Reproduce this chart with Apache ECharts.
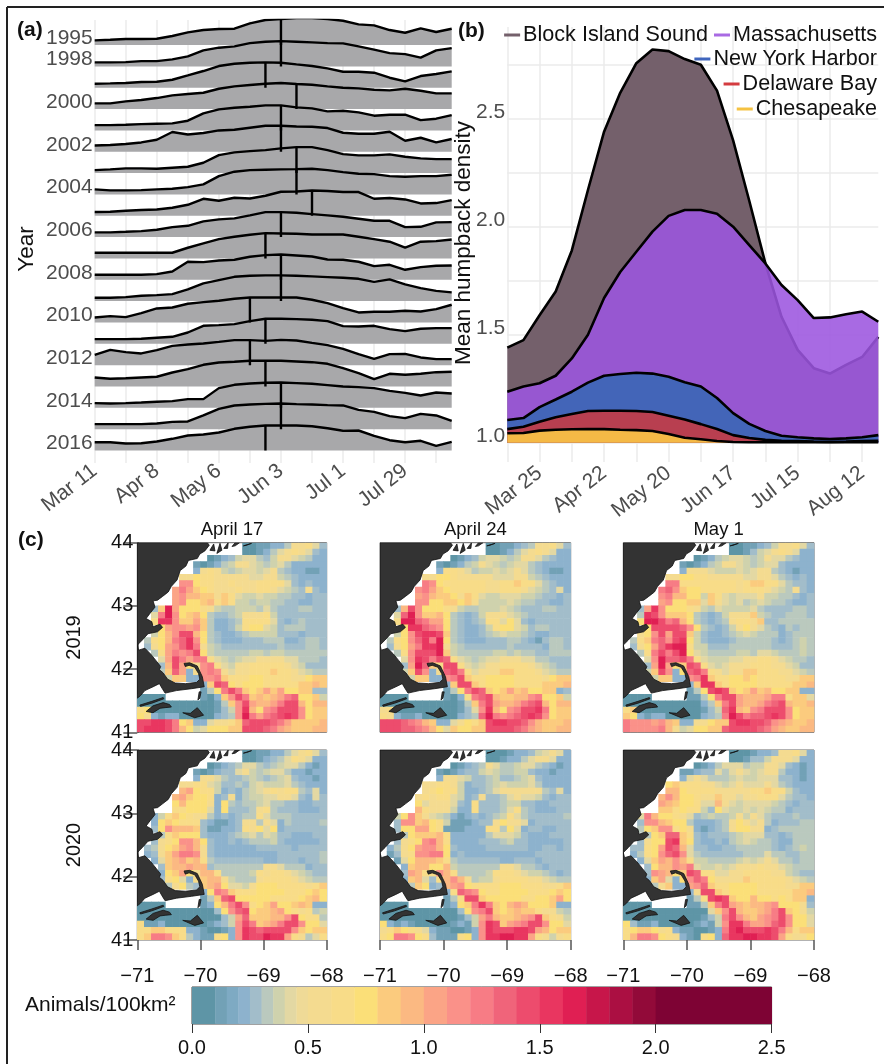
<!DOCTYPE html>
<html><head><meta charset="utf-8">
<script src="https://cdn.jsdelivr.net/npm/echarts@6/dist/echarts.min.js"></script>
<style>html,body{margin:0;padding:0;background:#fff}#c{width:884px;height:1064px}</style></head>
<body><div id="c"></div>
<script>
// ---------- panel (a): ridge heights per week, Mar 11 .. Aug 19
const ridgeYears=[1995,1998,1999,2000,2001,2002,2003,2004,2005,2006,2007,2008,2009,2010,2011,2012,2013,2014,2015,2016];
const ridgeLabelled=[1995,1998,2000,2002,2004,2006,2008,2010,2012,2014,2016];
const ridgePeakWeek=[12,12,11,13,12,12,13,13,14,12,11,12,12,10,11,10,11,12,12,11];
const r1995=[4.7,5.3,6,6,6.3,9,12.7,15,16,16.3,21.7,25,26,27,27,26,24.3,20.7,19.7,15,12.3,16.7,13,16.3];
const r1998=[4,4,4.3,5.3,5.3,7,10,16,18.7,20,23.3,24.7,25.3,24.7,24,23.3,23,20,16.7,13.3,12.3,8.7,16,18.3];
const r1999=[4,4.3,4.7,5.7,6,8,12.3,16.7,21.7,24,25,25.3,25,23.3,21.7,19.3,16,16,15,10,6.3,11.7,13.7,16.3];
const r2000=[5.7,5.7,7.7,9,11,13.7,15,16.3,20.3,22.7,24,25.3,26,25,24.3,22.7,21.3,20.7,19.3,18.7,20.3,18.3,15.7,15.7];
const r2001=[5.3,5.3,5.7,6.3,6.7,7,9.7,17,21,22.7,23.7,25,25,23,22,19,19.7,18,14.7,15.7,15.7,10.3,11.7,15.3];
const r2002=[6.3,6.7,7.7,9.3,12,19.7,17.3,18.7,21.3,22,24,26,26,25.3,25,23.7,19,18,18,20,11,14,9.3,12.7];
const r2003=[3,3.7,4.7,4.7,4.3,5.3,6.3,10.3,18,20.7,22,23,24.7,26,26,23,19,17.7,17.7,18.7,16.3,14.7,14,14];
const r2004=[5,4,4,4.3,5,5.7,7.3,10,18.3,22.7,24.3,24.7,25,25.3,25.7,24.3,22.3,20.7,20.3,18.3,17.7,18.3,18.3,19.7];
const r2005=[3.7,4,5,5.7,6.3,8,11,17,15,18,17.3,20,24,24.3,25.3,24.7,23.7,23.7,17,17.7,16.3,12.3,12.7,15.7];
const r2006=[4.7,4.7,5.3,6,7.3,10,11.3,15.7,17.7,18.7,21.7,25,25,24.3,23,21.7,20.3,18.3,16.3,16.3,10,10.3,14.7,15];
const r2007=[5.7,5.7,5.7,5.7,5.7,5.7,10.7,15,19.3,21.7,23.7,25.3,25,24.7,24,24,24,21.7,19.3,16.7,10.7,16.7,17.3,19];
const r2008=[5,5,5,5,5.7,8.3,18,17.7,19.3,20,23,24.7,25.3,24.3,23.3,20.3,20,18,13.7,15,10,12.7,14,14.3];
const r2009=[3.3,3.3,4,5.3,6,7,11.7,17.7,21,24.3,25.3,25.7,25.7,25.3,24.7,24,23.3,22.3,19.3,21.7,16.7,13,10.3,8.7];
const r2010=[5,6.3,5.3,9.3,14,15,18.7,20.3,21.7,23.7,25,25,25,25,22.7,19.3,14.3,10,10.7,10.7,11.7,11,13.3,17.7];
const r2011=[4.7,4.7,4.7,5,6,7,11.3,18,18.7,19.7,22.7,25,25,24.7,24,22.7,17.7,17.3,18,14.7,12.7,15,15.7,15.7];
const r2012=[10.3,15.3,13,11.7,15,19.3,20.7,21.7,23.3,25,25,24.3,25.3,24.7,22.3,20,16.3,11,6.3,11,11.3,7.7,6,6];
const r2013=[9,7.7,8.3,9,9.7,14,17.3,21.7,24,24.7,25.7,25.7,25.7,25,24.3,22.7,18.3,13.3,7.3,12.7,11.7,12.7,14.3,14.7];
const r2014=[4.7,4.3,4.7,5.3,6,6.7,8.7,8.7,19.7,23,24.3,25,25.3,24.7,24,22.7,21.3,20.7,19.7,17,15,12.3,15.3,14.3];
const r2015=[5,5,5,5,5.7,7.3,7.7,13.7,20.3,23.7,24.7,25.3,25.7,25,24.7,24,23.7,19.3,17.3,13,11,15.3,13.7,8.3];
const r2016=[8.3,8.3,7,7.3,9,11.7,15,16,18,21.7,23.7,25,25,25,24.3,22.3,19.7,20,14.7,10.3,8.3,9.7,4.7,8.7];
const ridgeRows=[r1995,r1998,r1999,r2000,r2001,r2002,r2003,r2004,r2005,r2006,r2007,r2008,r2009,r2010,r2011,r2012,r2013,r2014,r2015,r2016];
const weekLabelsA={0:'Mar 11',4:'Apr 8',8:'May 6',12:'Jun 3',16:'Jul 1',20:'Jul 29'};
const weekLabelsB={2:'Mar 25',6:'Apr 22',10:'May 20',14:'Jun 17',18:'Jul 15',22:'Aug 12'};

// ---------- panel (b)
const blockIsland=[1.44,1.475,1.59,1.70,1.89,2.17,2.44,2.62,2.757,2.82,2.813,2.776,2.75,2.63,2.40,2.12,1.83,1.583,1.43,1.345,1.32,1.36,1.397,1.49];
const massachusetts=[1.236,1.26,1.275,1.31,1.39,1.50,1.67,1.79,1.884,1.977,2.05,2.077,2.077,2.06,2.0,1.915,1.83,1.73,1.66,1.577,1.58,1.595,1.607,1.56];
const newYorkHarbor=[1.105,1.114,1.165,1.20,1.236,1.278,1.31,1.318,1.324,1.32,1.305,1.28,1.26,1.207,1.137,1.087,1.054,1.032,1.025,1.02,1.017,1.02,1.025,1.035];
const delawareBay=[1.063,1.074,1.097,1.118,1.133,1.147,1.148,1.148,1.147,1.142,1.125,1.107,1.086,1.063,1.035,1.022,1.013,1.009,1.008,1.005,1.004,1.005,1.008,1.009];
const chesapeake=[1.044,1.045,1.056,1.06,1.062,1.063,1.063,1.06,1.058,1.054,1.04,1.023,1.016,1.008,1.003,1.002,1.002,1.002,1.002,1.002,1.002,1.002,1.002,1.002];

// ---------- panel (c): density classes per cell (27 columns, 30 rows, north to south)
const classValues={a:.05,b:.12,c:.22,d:.27,e:.33,f:.38,g:.43,h:.55,i:.65,j:.75,k:.85,l:.95,m:1.05,n:1.15,o:1.25,p:1.35,q:1.45,r:1.55,s:1.65,t:1.75};
const apr17y2019=["...............aabbccehhigd","...............aabceghihgdc","..........abcdfggedfhhgfecc","........babcefhhgfefgeccccc","........chihfefggfghedccbbc","......hhjiihhhhhgghhfedcccc","......nnjiihhihhhiiiigdcdcc",".....momkjihhhihhiihgfedhdc",".....mnllkkhkigffgffeeddcdd",".....mnjjklikiffeffeeddccdd","..dksmjjjihfeefffegedddeedd","..gosnjkljeddefhhhifddddddd","..irrnkkmkeccdeiiiigdcdeddd","...jmnnmnkeccdfijjgfdeeeddd","..fjlnqqljedccdeffffdddcddd",".eijloprnjedcccdddeeeccdeed",".dhjmnprohfeddddddddedddeed","..eimonoqjfeeeeeffeffeeeeee","...gmqomooigfefgghhhhggeeed","...dlqmjhnoigfhhiiiiihgfddd","...ekpmchnonhghhiiikiihgfee","....fkkccnnokiiijjiiiihhjkk",".........ckqpjijjjiiiiikklk",".........bejoqokjkmkmjjkkdd","aaaa.....backnqoklklmopjjkf","aaaaaaaaaaabeknqmllmoqqljll","ijaaaaaaaaabdfnrljnoqqqnjkk","jhcbccaaaaacdensomopqrqnjkk","qqrrqojkccghhikpqqqpomkkkkl","qrrrqoljfgjjjkkqqqpomlkkkll"];
const apr24y2019=["...............aabbcdehhigd","...............aabceghihgcc","..........abcdfggfefhhgedcc","........babcefhgfefggedcccc","........ciihgeffgfghgedcbbc","......hhjjihhhhhggghhfedccc","......onjiiiiiihhiikiigedcc",".....nomkjiiiiihhiiihgfedgc",".....mnlkkjhkigffgggffeddcd",".....nnjjkkjkhffffgfeeddccd","..dlqnjjjihfeefffgfedddeedd","..gpsnkkljedcdfhhhgfedddddd","..isspommjedcdeiigjgdcddddd","...jrrponjedccdfijjgfdeeddd","..fjnqrrqkedccdefgffedccddd",".eijnprosjedcccdddeedcbdeed",".dhjmorrshfeddddddeddddceed","..einqqqskfeeeeeffefeeddeee","...gnrqoqpigfefgghhhggeeddd","...dmspkiqqigfghhiiiihgfedd","...fkqnchpqoighhhkkiiihgfee","....fkkccnoqkiijjjjiiiihjkk",".........ckqqkijjjjiiiikkkl",".........bejoqpkjkmkljjkkcd","aaaa.....baciopqlkkllnojjkf","aaaaaaaaaaabekoqmllmopqljll","hiaaaaaaaaabdgnrljnoqqrojkk","ihcbbcaaaaacdepsonopqrqnjkk","qqqponlkccghjikqrrqqpnlkkkl","qqqpponljgkjjkkqqqqpomlkkll"];
const may1y2019=["...............aabbcdfhhigd","...............aabdfghihgcc","..........abcefggfefhggedcc","........babcefhhgfefggdcccc","........chhhgfffgfghhedcbcc","......hhjjiihhhhhgghhgedcdc","......ooiiiiiiiihikkiigeddc",".....opnkjjiiiiihiiihgfehdc",".....nolljjfkigfggghffeedcd",".....mnjjkkgkhgfgefgfeedccd","..dmrnjjjihfegffffgeddddeed","..erqnkkkjedcdfhhhkfeddeeed","..jssqopljedcdehiihkddeeeee","...jqqqqpnjedcdfhjhgedcedee","..hjnqmqqkfdccdefgfeeecdeee",".eikopnqrjfdcccdeeeeedcdefe",".dhjmprssiffdddeeeeeedddefe","..eioqoqsjgfeeeeffeggfeeefe","...gnsppqoigfffgghhiihgfeed","...dmsmjkqpigfghhhiiihhgfdd","...fkqncjpqoihghhkkiiihhgfe","....fkkccnorkiijjkjiiiihhkk",".........ckrrkijjjjiiiiikkl",".........bejqrqkjkmkljjkkcc","aaaa.....bbejoqqmlllmooikkg","aaaaaaaaaaacekoqmllmopqlkkl","ikaaaaaaaaabdfprlknoqqqnjkk","kjcbccaaaaacdeosqoppqrqnjkk","onnnmnlkcchhjkkqrrqqpnmlkkl","onnnnolhfgjjkkpqqqqpomlkkll"];
const apr17y2020=["...............aabbcceghigd","...............aabcdegihgcc","..........abcdeggedefggecbc","........babcddghfefggeccbcc","........chhgeddefedefgdccbc","......hhiigfddedfgfffgedccc","......lmjiifcdcefghihiiedgc",".....lmkjjicdhceffgghhgdcgd",".....jljjjhcjedeefgeeddccdd",".....iijjjgcjdddehiedddcccd","..cfikjihhecdcdeeigeeeddddd","..cjkjiiidcbbcdhhehgcedddde","..djnlllkdbbccdihjgjcdddddd","...eikjjjdcccdefgegfddcccdd","..dhijnnljdccdcdeeefdcccccd",".dehjkmnlhdccccccdddddcdddd",".cdhkmoonhdcccccccccdddddde","..cgklmkliedddddddccdddcdde","...dkllmlldeeeeeeehhgeeecdd","...cjkmjhllieeeefihiihgfedd","...dijgcikllhfeeehiiiihgfee","....ehjedklmjggfhjjjiiiihik",".........cjonkiiijjjjiiijkj",".........bekpqjjjjjiiiijklj","aaaa.....bcjloqnijkmjjklkcc","aaaaaaaaaaadjnpqjkklmjihief","aaaaaaaaaaaadfmpkkkllnqjiie","ibbcaaaaaabcdfnqoklmoqqnjjg","iikkiiiccbaabcnrqpqqqqnkjkk","ikoonkiecbbijcnrqqsrrmihegi"];
const apr24y2020=["...............aaabccdfghgc","...............aabcceghhgcc","..........abcdehgeefggedcbc","........babcddfgfeeffdccbcc","........chhgfddefddefgdcccc","......hhiihfcddefgfffgecccc","......hijiifccdeghhhhhhedgc",".....hihiigfcdhddeghggfdcdd",".....jghhhgdcidddeffddccddd",".....lihhhfccidddegiedcccdd","..fjnkhgfecbcdcdefigeddddde","..dnnkljifbbbcddhjhhgcddddd","..djjmmjibbbccciiejgcddccdd","...ejkkklicccccegggfdcccddd","..dhijnoliccccdddefddcccccd",".cehjmnnljdccccddddddccddcd",".bdhinnoojcdccccccccccddddd","..bgjlllkieddddddccdddcdddd","...cklljjlfeeeeeehhgeedcddd","...dmliinlieeeefiiihgffedcd","...cklgdilnlheffhiiiihhgfee","....ekjcdlmnjiiiijjjiiihhik",".........ciponjiijjjjiiijkj",".........beiqqkjjjjjiijjkmj","aaaa.....bcjkorokjlmljjjkcc","aaaaaaaaaaadjnoqkjklkkihhfe","aaaaaaaaaaabdfmolkklmnqkihf","jcbcbaaaaabcbfnrqkmnoqqnjjg","hikjihgcbbaabcnrqqqrrqmljkk","ijoonjidbbbijcnrrssrrmihfhi"];
const may1y2020=["...............aaabccdhhigc","...............aabddfhhhgcc","..........abcegggeffhhgdcbc","........bbcddgeghgfghheccbc","........cghgeeefgffgggddcbc","......jkiiihhgfghggghgedccc","......lljiiiihhhhhiikiifdcc",".....lnljjihhkhhghhiiigeddc",".....mlkjjigglhgfggggfedcdd",".....kkijiifdjgffgfgfeecddd","..goljjihgdefeefhfhgedddedd","..dnnlkjjecccdehjhghecdddee","..ejknnijhcbcdehjjhhcdeeeee","...ejkppkidcdddefgggddcdeee","..dhjjqrkjdccdcefgfeedcceee",".ddijmqplgddccddeeeeedcdefe",".ceijnpqngeddddddeeegeeddee","..cgkmlnliffeeeefgfghgeedee","...djllnmogffgfghhhihhgfeee","...dnmljkqpiigghhiiiihhfedd","...ckmgcjnpojhhhhkiiiiihgfe","....ehkccmnpkiijjjjiiiihhkk",".........chqqkijjjjiiiiikkl",".........beiqrqkjjljjijikkc","aaaa.....bbekoqmlkllmnjjjhd","aaaaaaaaaaaagknqlkklmoqkjhf","aaaaaaaaaaabdfoqnlkmnoqnjjg","jdbbcaaaaabcbfnrrommnpqnjjg","ijkkjhicbbaabcorsqqqrqolikk","iloonjihcbaijcprrssrrqmihhj"];
const mapTitles=['April 17','April 24','May 1'];
const mapYears=['2019','2020'];
const mapTables=[apr17y2019,apr24y2019,may1y2019,apr17y2020,apr24y2020,may1y2020];
const colourBreaks=[0,.1,.15,.2,.25,.3,.35,.4,.45,.5,.6,.7,.8,.9,1,1.1,1.2,1.3,1.4,1.5,1.6,1.7,1.8,1.9,2,2.5];
const colourBands=['#5e95a6','#72a1b6','#7eaac3','#8db2cd','#a2bdca','#bac9be','#cfd2ad','#e3d8a3','#efda97','#f4db90','#f8dc88','#fbdf78','#fbcb7e','#fbb982','#fba486','#fa9189','#f77c85','#f0647a','#ed4c6d','#e93660','#e01f53','#c7164a','#ab0f42','#920a39','#7e0334'];
// land outlines, longitude / latitude
const mainland=[[-71,44],[-69.89,44],[-69.86,43.96],[-69.93,43.87],[-70.01,43.82],[-70.05,43.75],[-70.19,43.72],[-70.23,43.63],[-70.32,43.56],[-70.37,43.41],[-70.46,43.31],[-70.51,43.22],[-70.6,43.15],[-70.68,43.09],[-70.75,43.08],[-70.72,42.98],[-70.8,42.88],[-70.86,42.8],[-70.77,42.75],[-70.75,42.67],[-70.64,42.71],[-70.6,42.66],[-70.68,42.59],[-70.83,42.56],[-70.92,42.46],[-71,42.38],[-70.98,42.3],[-70.88,42.33],[-70.79,42.24],[-70.7,42.13],[-70.63,42.04],[-70.65,41.99],[-70.59,41.94],[-70.52,41.84],[-70.4,41.78],[-70.24,41.77],[-70.06,41.79],[-70.01,41.84],[-70.03,41.93],[-70.09,42.03],[-70.18,42.06],[-70.24,42.04],[-70.26,42.09],[-70.17,42.1],[-70.05,42.05],[-69.97,41.88],[-69.94,41.72],[-70.14,41.69],[-70.38,41.66],[-70.56,41.62],[-70.61,41.7],[-70.65,41.77],[-70.75,41.72],[-70.88,41.66],[-70.95,41.58],[-71,41.54]];
const elizabethIslands=[[-70.96,41.43],[-70.77,41.49],[-70.59,41.55],[-70.58,41.53],[-70.77,41.46],[-70.95,41.41]];
const marthasVineyard=[[-70.86,41.33],[-70.75,41.42],[-70.59,41.47],[-70.49,41.44],[-70.46,41.4],[-70.56,41.39],[-70.64,41.38],[-70.75,41.31]];
const nantucket=[[-70.28,41.31],[-70.16,41.3],[-70.05,41.39],[-69.95,41.27],[-70.09,41.23]];
const monomoy=[[-70.02,41.64],[-69.99,41.64],[-70.01,41.54],[-70.04,41.51]];
const maineA=[[-69.85,43.88],[-69.79,43.98],[-69.77,43.87]];
const maineB=[[-69.74,43.83],[-69.69,43.99],[-69.66,43.88]];
const maineC=[[-69.63,43.91],[-69.56,44],[-69.57,43.91]];
const maineD=[[-69.5,43.94],[-69.45,44],[-69.38,44],[-69.45,43.95]];
const maineE=[[-69.32,43.95],[-69.19,43.99],[-69.27,43.96]];
const landShapes=[mainland,elizabethIslands,marthasVineyard,nantucket,monomoy,maineA,maineB,maineC,maineD,maineE];

const font='"Liberation Sans", Arial, sans-serif';
const gridCol='#ebebeb', tickCol='#4d4d4d';
function bandColour(v){for(let i=0;i<colourBands.length;i++){if(v<colourBreaks[i+1])return colourBands[i];}return colourBands[colourBands.length-1];}
const grid=[],xAxis=[],yAxis=[],series=[];

// ---- (a)
const rowGap=21.34;
grid.push({left:94.7,top:20,width:357,height:430.5});
xAxis.push({type:'value',min:0,max:23,interval:2,gridIndex:0,
  axisLine:{show:false},axisTick:{show:true,length:12.5,lineStyle:{color:gridCol,width:1.5},customValues:[0,2,4,6,8,10,12,14,16,18,20,22]},
  splitLine:{show:true,showMaxLine:false,lineStyle:{color:gridCol,width:1.5}},
  axisLabel:{customValues:Object.keys(weekLabelsA).map(Number),formatter:v=>weekLabelsA[v]||'',rotate:38,margin:18,fontSize:21,color:tickCol,fontFamily:font,hideOverlap:false}});
const baseOf=i=>(ridgeYears.length-1-i)*rowGap;
const yearAt={};
ridgeLabelled.forEach(y=>{yearAt[Math.round(baseOf(ridgeYears.indexOf(y))+6.5)]=y;});
yAxis.push({type:'value',min:0,max:430.5,gridIndex:0,
  axisLine:{show:false},axisTick:{show:false},splitLine:{show:false},
  axisLabel:{customValues:Object.keys(yearAt).map(Number),formatter:v=>yearAt[Math.round(v)]||'',margin:2,fontSize:21,color:tickCol,fontFamily:font,showMinLabel:true,showMaxLabel:true}});
ridgeRows.forEach((row,i)=>{
  const b=baseOf(i);
  series.push({type:'line',xAxisIndex:0,yAxisIndex:0,name:'r'+ridgeYears[i],symbol:'none',silent:true,animation:false,
    data:row.map((h,w)=>[w,b+h]),lineStyle:{color:'#000',width:2.4},areaStyle:{color:'#a8a8aa',opacity:1,origin:b},z:2+i});
  const pk=ridgePeakWeek[i];
  series.push({type:'line',xAxisIndex:0,yAxisIndex:0,symbol:'none',silent:true,animation:false,
    data:[[pk,b],[pk,b+row[pk]]],lineStyle:{color:'#000',width:2.4},z:30});
});

// ---- (b)
grid.push({left:507.3,top:27,width:371,height:415.7});
xAxis.push({type:'value',min:0,max:23,interval:2,gridIndex:1,
  axisLine:{show:false},axisTick:{show:true,length:19.3,lineStyle:{color:gridCol,width:1.5},customValues:[0,2,4,6,8,10,12,14,16,18,20,22]},
  splitLine:{show:true,showMaxLine:false,lineStyle:{color:gridCol,width:1.5}},
  axisLabel:{customValues:Object.keys(weekLabelsB).map(Number),formatter:v=>weekLabelsB[v]||'',rotate:38,margin:28,fontSize:21,color:tickCol,fontFamily:font}});
yAxis.push({type:'value',min:1,max:2.9245,interval:.25,gridIndex:1,
  axisLine:{show:false},axisTick:{show:false},
  splitLine:{show:true,showMaxLine:false,lineStyle:{color:gridCol,width:1.5}},
  axisLabel:{customValues:[1,1.5,2,2.5],formatter:v=>v.toFixed(1),margin:2,verticalAlign:'bottom',lineHeight:12,fontSize:21,color:tickCol,fontFamily:font}});
const areaDefs=[['Block Island Sound',blockIsland,'#74606b',1,'#74606b'],['Massachusetts',massachusetts,'#9c55df',.88,'#a96ae3'],['New York Harbor',newYorkHarbor,'#4365b8',1,'#3f65bd'],['Delaware Bay',delawareBay,'#b83f50',1,'#d43b3f'],['Chesapeake',chesapeake,'#f4b946',1,'#f5c242']];
areaDefs.forEach((d,i)=>{
  series.push({type:'line',name:d[0],xAxisIndex:1,yAxisIndex:1,symbol:'none',silent:true,animation:false,z:3+i,
    data:d[1].map((v,w)=>[w,v]),itemStyle:{color:d[4]},lineStyle:{color:'#000',width:2.6},areaStyle:{color:d[2],opacity:d[3],origin:'start'}});
});
const legItem=d=>({name:d[0],icon:'rect',itemStyle:{color:d[4],borderWidth:0},lineStyle:{width:0}});
const legRow=(items,top)=>({show:true,data:items.map(i=>legItem(areaDefs[i])),right:7,top,orient:'horizontal',selectedMode:false,itemWidth:16,itemHeight:3,itemGap:6,
  textStyle:{fontSize:21.6,color:'#111',fontFamily:font,padding:[0,0,0,-2]},padding:0,z:20});
const legend=[legRow([0,1],24),legRow([2],48),legRow([3],73),legRow([4],98)];

// ---- (c)
const mapLefts=[137.3,380,623.3], mapTops=[542.7,750], mapW=[189.4,190.7,190.7];
mapTables.forEach((tbl,k)=>{
  const col=k%3,row=Math.floor(k/3),gi=grid.length,isL=col===0,isB=row===1;
  grid.push({left:mapLefts[col],top:mapTops[row],width:mapW[col],height:row?190:189.6,show:true,borderColor:'#666',borderWidth:1,backgroundColor:'#fff'});
  xAxis.push({type:'value',min:-71,max:-68,interval:1,gridIndex:gi,position:isB?'bottom':'top',
    name:isB?'':mapTitles[col],nameLocation:'middle',nameGap:3,nameTextStyle:{fontSize:18.5,color:'#111',fontFamily:font},
    axisLine:{show:false},splitLine:{show:false},
    axisTick:{show:isB,length:10,lineStyle:{color:'#555',width:1.5}},
    axisLabel:{show:isB,margin:26,fontSize:20,color:'#111',fontFamily:font,formatter:v=>'\u2212'+Math.abs(v),showMinLabel:true,showMaxLabel:true}});
  yAxis.push({type:'value',min:41,max:44,interval:1,gridIndex:gi,
    name:isL?mapYears[row]:'',nameLocation:'middle',nameGap:53,nameTextStyle:{fontSize:20,color:'#111',fontFamily:font},
    axisLine:{show:isL,lineStyle:{color:'#444',width:1.5}},splitLine:{show:false},
    axisTick:{show:isL,length:14,lineStyle:{color:'#555',width:1.5}},
    axisLabel:{show:isL,margin:4,fontSize:20,color:'#111',fontFamily:font}});
  const cells=[];
  tbl.forEach((s,r)=>{for(let j=0;j<s.length;j++){const v=classValues[s[j]];if(v!==undefined)cells.push([-71+(j+.5)*3/27,44-(r+.5)*3/30,v]);}});
  series.push({type:'custom',xAxisIndex:gi,yAxisIndex:gi,silent:true,animation:false,z:2,data:cells,encode:{x:0,y:1},clip:true,
    renderItem:(p,api)=>{const c=api.coord([api.value(0),api.value(1)]),sz=api.size([3/27,3/30]);
      return {type:'rect',shape:{x:c[0]-sz[0]/2-.3,y:c[1]-sz[1]/2-.3,width:sz[0]+.6,height:sz[1]+.6},style:{fill:bandColour(api.value(2))}};}});
  series.push({type:'custom',xAxisIndex:gi,yAxisIndex:gi,silent:true,animation:false,z:3,data:landShapes.map((s,i)=>[s[0][0],s[0][1],i]),encode:{x:0,y:1},clip:true,
    renderItem:(p,api)=>{const pts=landShapes[api.value(2)].map(q=>api.coord(q));
      return {type:'polygon',shape:{points:pts},style:{fill:'#333',stroke:'#111',lineWidth:.8}};}});
});

// ---- colour bar
const cbi=grid.length;
grid.push({left:192,top:987,width:579.6,height:37,show:true,borderColor:'#444',borderWidth:1,backgroundColor:'#fff'});
xAxis.push({type:'value',min:0,max:2.5,interval:.5,gridIndex:cbi,axisLine:{show:false},splitLine:{show:false},
  axisTick:{show:true,length:9,lineStyle:{color:'#333',width:1}},
  axisLabel:{margin:14,fontSize:20,color:'#111',fontFamily:font,formatter:v=>v.toFixed(1),showMinLabel:true,showMaxLabel:true}});
yAxis.push({type:'value',min:0,max:1,gridIndex:cbi,show:false});
series.push({type:'custom',xAxisIndex:cbi,yAxisIndex:cbi,silent:true,animation:false,z:2,
  data:colourBands.map((c,i)=>[colourBreaks[i],colourBreaks[i+1],i]),encode:{x:[0,1]},
  renderItem:(p,api)=>{const a=api.coord([api.value(0),0]),b=api.coord([api.value(1),1]);
    return {type:'rect',shape:{x:a[0],y:b[1],width:b[0]-a[0]+.4,height:a[1]-b[1]},style:{fill:colourBands[api.value(2)]}};}});

const chart=echarts.init(document.getElementById('c'),null,{renderer:'canvas'});
chart.setOption({
  animation:false,backgroundColor:'#fff',grid,xAxis,yAxis,series,legend,tooltip:{show:false},
  title:[
    {text:'(a)',left:17,top:20,padding:0,textStyle:{fontSize:21,fontWeight:'bold',color:'#111',fontFamily:font}},
    {text:'(b)',left:458,top:21,padding:0,textStyle:{fontSize:21,fontWeight:'bold',color:'#111',fontFamily:font}},
    {text:'(c)',left:18,top:530,padding:0,textStyle:{fontSize:21,fontWeight:'bold',color:'#111',fontFamily:font}},
    {text:'Animals/100km\u00B2',left:25,top:995,padding:0,textStyle:{fontSize:21,fontWeight:'normal',color:'#111',fontFamily:font}}
  ],
  graphic:[
    {type:'line',shape:{x1:7,y1:7,x2:884,y2:7},style:{stroke:'#222',lineWidth:2},silent:true},
    {type:'line',shape:{x1:7,y1:7,x2:7,y2:1064},style:{stroke:'#222',lineWidth:2},silent:true},
    {type:'text',x:464,y:243,rotation:Math.PI/2,silent:true,style:{text:'Mean humpback density',fontSize:22.5,fill:'#111',fontFamily:font,align:'center',verticalAlign:'middle'}},
    {type:'text',x:27,y:249,rotation:Math.PI/2,silent:true,style:{text:'Year',fontSize:22.5,fill:'#111',fontFamily:font,align:'center',verticalAlign:'middle'}}
  ]
});
</script></body></html>
